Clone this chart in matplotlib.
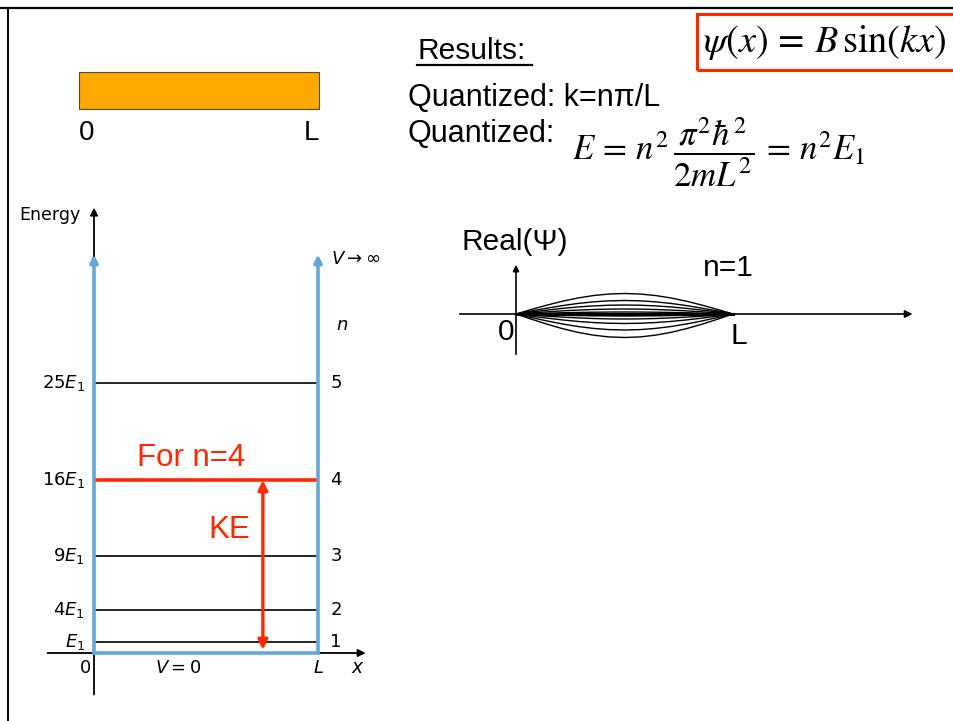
import numpy as np
import matplotlib.pyplot as plt
from matplotlib.lines import Line2D
from matplotlib.patches import Rectangle

W, H = 954, 721

# energy levels of the infinite square well, in units of E1
levels_n = [1, 2, 3, 4, 5]
levels_E = [1, 4, 9, 16, 25]
level_labels = ['$E_1$', '$4E_1$', '$9E_1$', '$16E_1$', '$25E_1$']
highlight_n = 4

# snapshots of Real(psi) for n=1, amplitudes
wave_amps = [20.5, 13.5, 9, 5, 2, 0, -2, -5, -9.5, -16, -23.5]

RED = '#FF2600'
BLUE = '#62A8D8'
ORANGE = '#FFA800'
SANS = ['Liberation Sans', 'DejaVu Sans']

plt.rcParams['font.family'] = SANS

fig = plt.figure(figsize=(W / 100, H / 100), dpi=100)


def fx(px):
    return px / W


def fy(py):
    return 1 - py / H


def px_axes(x0, y0, x1, y1):
    ax = fig.add_axes([fx(x0), fy(y1), (x1 - x0) / W, (y1 - y0) / H])
    ax.set_axis_off()
    return ax


# slide frame (top and left edges)
fig.add_artist(Line2D([0, 1], [fy(8), fy(8)], color='k', lw=1.6))
fig.add_artist(Line2D([fx(8), fx(8)], [fy(8), 0], color='k', lw=1.4))

# ---- orange bar 0..L
axb = px_axes(60, 60, 340, 150)
axb.set_xlim(-19 / 240, 261 / 240)
axb.set_ylim(-41 / 37, 49 / 37)
axb.bar([0.5], [1], width=1, bottom=0, color=ORANGE, edgecolor='#5a4a20', lw=0.8)
axb.text(0, -0.65, '0', fontsize=20, ha='left', va='center')
axb.text(1, -0.65, 'L', fontsize=20, ha='right', va='center')

# ---- energy level diagram
ax = px_axes(0, 180, 420, 721)
ax.set_xlim(-94 / 224, 326 / 224)
ax.set_ylim(-68 / 10.8, 473 / 10.8)

ax.annotate('', xy=(0, 41.5), xytext=(0, -4.1),
            arrowprops=dict(arrowstyle='-|>', color='k', lw=1.3, mutation_scale=11))
ax.annotate('', xy=(1.225, 0), xytext=(-0.22, 0),
            arrowprops=dict(arrowstyle='-|>', color='k', lw=1.3, mutation_scale=11))

for n, E in zip(levels_n, levels_E):
    if n == highlight_n:
        ax.plot([0, 1], [E, E], color=RED, lw=2.6, solid_capstyle='butt', zorder=3)
    else:
        ax.plot([0, 1], [E, E], color='k', lw=1.2, solid_capstyle='butt', zorder=3)

for xw in [0, 1]:
    ax.annotate('', xy=(xw, 36.9), xytext=(xw, 0),
                arrowprops=dict(arrowstyle='-|>', color=BLUE, lw=2.6,
                                mutation_scale=11, shrinkA=0, shrinkB=0), zorder=4)
ax.plot([0, 1], [0, 0], color=BLUE, lw=2.6, solid_capstyle='projecting', zorder=4)

for lab, n, E in zip(level_labels, levels_n, levels_E):
    ax.text(-0.04, E, lab, fontsize=13, ha='right', va='center', family='DejaVu Sans')
    ax.text(1.055, E, str(n), fontsize=13, ha='left', va='center', family='DejaVu Sans')

ax.text(-0.06, 40.6, 'Energy', fontsize=12.5, ha='right', va='center', family='DejaVu Sans')
ax.text(1.06, 36.4, r'$V \rightarrow \infty$', fontsize=13, ha='left', va='center')
ax.text(1.08, 30.3, r'$n$', fontsize=13, ha='left', va='center')
ax.text(-0.04, -1.4, '0', fontsize=13, ha='center', va='center', family='DejaVu Sans')
ax.text(0.375, -1.4, r'$V = 0$', fontsize=13, ha='center', va='center')
ax.text(1.0, -1.4, r'$L$', fontsize=13, ha='center', va='center')
ax.text(1.18, -1.4, r'$x$', fontsize=13.5, ha='center', va='center')

ax.text(0.19, 18.1, 'For n=4', color=RED, fontsize=22.5, ha='left', va='center')
ax.text(0.603, 11.4, 'KE', color=RED, fontsize=22.5, ha='center', va='center')
ax.annotate('', xy=(0.754, 16), xytext=(0.754, 0.3),
            arrowprops=dict(arrowstyle='<|-|>', color=RED, lw=2.4,
                            mutation_scale=14, shrinkA=0, shrinkB=0), zorder=5)

# ---- Real(psi) snapshots for n=1
axw = px_axes(440, 220, 930, 370)
axw.set_xlim(-76 / 217, 414 / 217)
axw.set_ylim(-56, 94)
axw.annotate('', xy=(1.84, 0), xytext=(-0.272, 0),
             arrowprops=dict(arrowstyle='-|>', color='k', lw=1.2, mutation_scale=11))
axw.annotate('', xy=(0, 52), xytext=(0, -43),
             arrowprops=dict(arrowstyle='-|>', color='k', lw=1.2, mutation_scale=9))
xs = np.linspace(0, 1, 15)
for a in wave_amps:
    axw.plot(xs, a * np.sin(np.pi * xs), color='k', lw=1.0)
axw.plot([0, 1], [0, 0], color='k', lw=2.2)
axw.text(-0.25, 72, 'Real(Ψ)', fontsize=21.5, ha='left', va='center')
axw.text(0.862, 46, 'n=1', fontsize=21.5, ha='left', va='center')
axw.text(-0.046, -18, '0', fontsize=21.5, ha='center', va='center')
axw.text(1.028, -22, 'L', fontsize=21.5, ha='center', va='center')

# ---- text block at the top right
fig.text(fx(418), fy(51), 'Results:', fontsize=21.5, ha='left', va='center')
fig.add_artist(Line2D([fx(417), fx(532)], [fy(65), fy(65)], color='k', lw=1.6))
fig.text(fx(408), fy(98), 'Quantized: k=n\u03c0/L', fontsize=22, ha='left', va='center')
fig.text(fx(408), fy(134), 'Quantized:', fontsize=22, ha='left', va='center')
fig.text(fx(572), fy(152),
         r'$E\,=\,n^{2}\,\dfrac{\pi^{2}\hbar^{2}}{2mL^{2}}\,=\,n^{2}E_{1}$',
         fontsize=25, ha='left', va='center', math_fontfamily='stix')

fig.add_artist(Rectangle((fx(697), fy(70)), fx(300), 56 / H, fill=False,
                         edgecolor=RED, lw=2.2))
fig.text(fx(703), fy(42), r'$\psi(x)\,=\,B\,\mathrm{sin}(kx)$', fontsize=27.5,
         ha='left', va='center', math_fontfamily='stix')

fig.savefig('out.png', dpi=100)
